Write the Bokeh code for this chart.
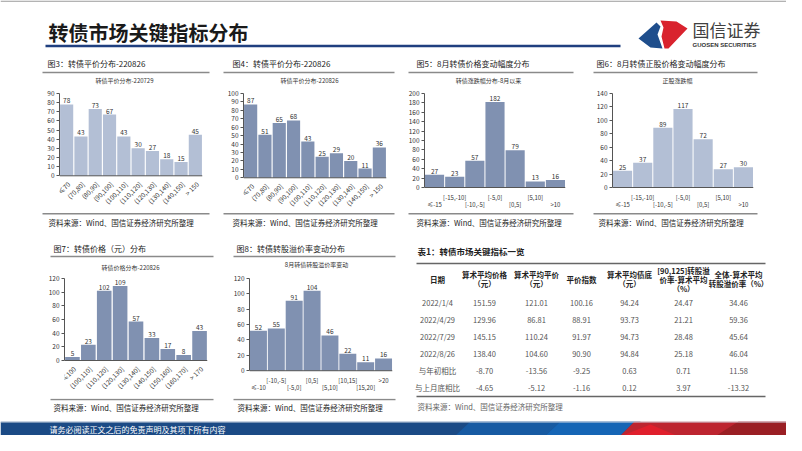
import math
from bokeh.plotting import figure
from bokeh.layouts import row, column
from bokeh.models import Range1d, FixedTicker, Span
from bokeh.core.properties import value
from bokeh.embed import file_html
from bokeh.resources import INLINE

# ---------------- data ----------------
cats_parity = ["≤70", "(70,80]", "(80,90]", "(90,100]", "(100,110]", "(110,120]",
               "(120,130]", "(130,140]", "(140,150]", "> 150"]
parity_0729 = [78, 43, 73, 67, 43, 30, 27, 18, 15, 45]
parity_0826 = [87, 51, 65, 68, 43, 25, 29, 20, 11, 36]

cats_chg = ["≤-15", "[-15,-10]", "[-10,-5]", "[-5,0]", "[0,5]", "[5,10]", ">10"]
cb_chg_aug = [27, 23, 57, 182, 79, 13, 16]
stock_chg_aug = [25, 37, 89, 117, 72, 27, 30]

cats_price = ["≤100", "(100,110]", "(110,120]", "(120,130]", "(130,140]", "(140,150]",
              "(150,160]", "(160,170]", "> 170"]
price_0826 = [5, 23, 102, 109, 57, 33, 17, 8, 43]

cats_prem = ["≤-10", "[-10,-5]", "[-5,0]", "[0,5]", "[5,10]", "[10,15]", "[15,20]", ">20"]
prem_chg_aug = [52, 55, 91, 104, 46, 22, 11, 16]

table_headers = ["日期", "算术平均价格\n（元）", "算术平均平价\n（元）", "平价指数",
                 "算术平均债底\n（元）", "[90,125]转股溢\n价率-算术平均\n（%）",
                 "全体-算术平均\n转股溢价率（%）"]
table_rows = ["2022/1/4", "2022/4/29", "2022/7/29", "2022/8/26", "与年初相比", "与上月底相比"]
avg_price = [151.59, 129.96, 145.15, 138.40, -8.70, -4.65]
avg_parity = [121.01, 86.81, 110.24, 104.60, -13.56, -5.12]
parity_index = [100.16, 88.91, 91.97, 90.90, -9.25, -1.16]
avg_bond_floor = [94.24, 93.73, 94.73, 94.84, 0.63, 0.12]
prem_90_125 = [24.47, 21.21, 28.48, 25.18, 0.71, 3.97]
prem_all = [34.46, 59.36, 45.64, 46.04, 11.58, -13.32]

SOURCE = "资料来源：Wind、国信证券经济研究所整理"

# ---------------- styles ----------------
FONT = "Noto Sans CJK SC"
F = value(FONT)
LIGHT = "#b3bfd5"
DARK = "#8091b1"
RULE = "#8a8a8a"


def band(x0, x1, y0, y1):
    p = figure(width=x1 - x0, height=y1 - y0, x_range=Range1d(x0, x1), y_range=Range1d(y1, y0),
               x_axis_type=None, y_axis_type=None, toolbar_location=None,
               output_backend="svg", min_border=0)
    p.outline_line_color = None
    p.background_fill_color = "white"
    p.border_fill_color = "white"
    return p


def txt(p, x, y, s, size, color="#222222", align="left", bold=False, font=F):
    p.text(x=[x], y=[y], text=[s], text_font=font, text_font_size=f"{size}px",
           text_color=color, text_align=align, text_baseline="middle",
           text_font_style="bold" if bold else "normal")


def hline(p, x0, x1, y, color=RULE, w=1.4):
    p.segment(x0=[x0], y0=[y], x1=[x1], y1=[y], line_color=color, line_width=w)


def chart(w, h, cats, vals, ymax, ystep, color, lb, rb, tb, z0, rotated):
    """z0: pixel row (from figure top) where the value 0 sits; the frame runs to the bottom
    so that category labels can be drawn under the zero line."""
    n = len(vals)
    idx = list(range(n))
    ymin = -ymax * (h - z0) / (z0 - tb)
    p = figure(width=w, height=h, x_range=Range1d(-0.5, n - 0.5), y_range=Range1d(ymin, ymax),
               x_axis_type=None, toolbar_location=None, output_backend="svg",
               min_border_left=lb, min_border_right=rb, min_border_top=tb, min_border_bottom=0)
    p.grid.visible = False
    p.outline_line_color = None
    p.background_fill_color = "white"
    p.border_fill_color = "white"
    p.vbar(x=idx, top=vals, width=0.95 if not rotated else 0.92, fill_color=color, line_color=None)
    p.text(x=idx, y=vals, text=[str(v) for v in vals], text_font=F, text_font_size="6.5px",
           text_color="#333333", text_align="center", text_baseline="bottom", y_offset=-1)
    p.add_layout(Span(location=0, dimension="width", line_color="#555555", line_width=1))
    ya = p.yaxis[0]
    ya.ticker = FixedTicker(ticks=list(range(0, ymax + 1, ystep)))
    ya.bounds = (0, ymax)
    ya.major_label_text_font = FONT
    ya.major_label_text_font_size = "6.5px"
    ya.major_label_text_color = "#333333"
    ya.axis_line_color = "#555555"
    ya.major_tick_line_color = "#555555"
    ya.minor_tick_line_color = None
    ya.major_tick_out = 3
    ya.major_tick_in = 0
    ya.major_label_standoff = 2
    if rotated:
        p.text(x=idx, y=[0] * n, text=cats, angle=math.pi / 4, text_align="right",
               text_baseline="middle", x_offset=2, y_offset=7, text_font=F,
               text_font_size="6.5px", text_color="#333333")
    else:
        lab = dict(text_font=F, text_font_size="6px", text_color="#333333")
        up, lo = idx[1::2], idx[0::2]
        p.text(x=up, y=[0] * len(up), text=[cats[i] for i in up], text_align="center",
               text_baseline="middle", y_offset=10, **lab)
        p.text(x=lo, y=[0] * len(lo), text=[cats[i] for i in lo], text_align="center",
               text_baseline="middle", y_offset=17, **lab)
    return p


# ---------------- header band ----------------
b1 = band(0, 786, 0, 86)
hline(b1, 0, 786, 0.6, color="#9a9a9a", w=1.2)
txt(b1, 48, 32, "转债市场关键指标分布", 20, color="#1a1a1a", bold=True)
hline(b1, 45, 620, 45.5, color="#1f3f7f", w=2.6)
b1.patches(xs=[[638, 656, 660, 657, 662, 650], [660, 676, 687, 668, 664, 661, 663]],
           ys=[[38, 22, 26, 34, 48, 47], [20, 21, 28, 48, 48, 36, 27]],
           fill_color=["#1f4e8c", "#d9232e"], line_color=None)
txt(b1, 692, 29, "国信证券", 17, color="#404040")
txt(b1, 692, 44, "GUOSEN SECURITIES", 6, color="#333333", bold=True, font=value("Liberation Sans"))

captions1 = [(47, "图3：转债平价分布-220826"), (232, "图4：转债平价分布-220826"),
             (416, "图5：8月转债价格变动幅度分布"), (596, "图6：8月转债正股价格变动幅度分布")]
for x, s in captions1:
    txt(b1, x, 63, s, 8)
for x0, x1 in [(42, 209), (223, 394), (408, 573), (593, 757)]:
    hline(b1, x0, x1, 72)
for x, s in [(124, "转债平价分布-220729"), (309, "转债平价分布-220826"),
             (488, "转债涨跌幅分布-8月以来"), (677, "正股涨跌幅")]:
    txt(b1, x, 80, s, 6, color="#333333", align="center")

# ---------------- row 1 charts (top at y=86, height 126) ----------------
c3 = chart(215, 126, cats_parity, parity_0729, 90, 10, LIGHT, 59, 13, 6, 89, True)
c4 = chart(185, 126, cats_parity, parity_0826, 100, 10, DARK, 28, 14, 6, 91, True)
c5 = chart(185, 126, cats_chg, cb_chg_aug, 200, 20, DARK, 24, 20, 7, 101, False)
c6 = chart(201, 126, cats_chg, stock_chg_aug, 140, 20, LIGHT, 27, 33, 7, 101, False)

# ---------------- band 2 (left) ----------------
b2 = band(0, 400, 212, 272)
hline(b2, 42, 209, 213.3)
hline(b2, 223, 394, 213.3)
txt(b2, 48, 222, SOURCE, 7.5)
txt(b2, 232, 222, SOURCE, 7.5)
txt(b2, 53, 248, "图7：转债价格（元）分布", 8)
txt(b2, 236, 248, "图8：转债转股溢价率变动分布", 8)
hline(b2, 50, 213, 256)
hline(b2, 233, 395, 256)
txt(b2, 130, 267, "转债价格分布-220826", 6, color="#333333", align="center")
txt(b2, 316, 264, "8月转债转股溢价率变动", 6, color="#333333", align="center")

# ---------------- row 2 charts (top at y=272, height 126) ----------------
c7 = chart(220, 126, cats_price, price_0826, 120, 20, DARK, 64, 13, 6, 88, True)
c8 = chart(180, 126, cats_prem, prem_chg_aug, 120, 20, DARK, 29, 8, 5, 98, False)

# ---------------- band 3 (left) ----------------
b3 = band(0, 400, 398, 421)
hline(b3, 50, 213, 399)
hline(b3, 233, 395, 399)
txt(b3, 53, 407, SOURCE, 7.5)
txt(b3, 237, 407, SOURCE, 7.5)

# ---------------- table block ----------------
tb = band(400, 786, 212, 421)
hline(tb, 408, 573, 213.3)
hline(tb, 593, 757, 213.3)
txt(tb, 416, 222, SOURCE, 7.5)
txt(tb, 598, 222, SOURCE, 7.5)
txt(tb, 417, 250, "表1：转债市场关键指标一览", 8.5, bold=True)
hline(tb, 416, 765, 263, color="#666666", w=1.5)
hline(tb, 416, 765, 396, color="#666666", w=1.5)

col_x = [437, 484, 536, 581, 629, 683, 738]
head_cy, head_lh = 278.5, 9
for cx, h in zip(col_x, table_headers):
    lines = h.split("\n")
    y0 = head_cy - head_lh * (len(lines) - 1) / 2
    tb.text(x=[cx] * len(lines), y=[y0 + k * head_lh for k in range(len(lines))], text=lines,
            text_font=F, text_font_size="7.5px", text_color="#222222", text_font_style="bold",
            text_align="center", text_baseline="middle")

row_y0, row_h = 302, 17
row_ys = [row_y0 + i * row_h for i in range(len(table_rows))]
columns = [table_rows,
           [f"{v:.2f}" for v in avg_price],
           [f"{v:.2f}" for v in avg_parity],
           [f"{v:.2f}" for v in parity_index],
           [f"{v:.2f}" for v in avg_bond_floor],
           [f"{v:.2f}" for v in prem_90_125],
           [f"{v:.2f}" for v in prem_all]]
for cx, vals in zip(col_x, columns):
    tb.text(x=[cx] * len(vals), y=row_ys, text=vals, text_font=F, text_font_size="7.5px",
            text_color="#555555", text_align="center", text_baseline="middle")
txt(tb, 417, 406, SOURCE, 7.5, color="#666666")

# ---------------- footer ----------------
ft = band(0, 786, 421, 435)
ft.patches(xs=[[0, 640, 640, 0],
               [470, 560, 545, 455],
               [560, 634, 620, 545],
               [634, 802, 802, 620],
               [622, 650, 676],
               [738, 802, 802, 716]],
           ys=[[421, 421, 435, 435],
               [421, 421, 435, 435],
               [421, 421, 435, 435],
               [421, 421, 435, 435],
               [435, 424, 435],
               [421, 421, 435, 435]],
           fill_color=["#1b4a85", "#175aa2", "#1565b5", "#bd2530", "#e01f2c", "#9a1f24"],
           line_color=None)
hline(ft, 0, 802, 421.5, color="#cfd8e3", w=1)
txt(ft, 49, 428.5, "请务必阅读正文之后的免责声明及其项下所有内容", 8, color="white")

layout = column(b1, row(c3, c4, c5, c6),
                row(column(b2, row(c7, c8), b3), tb),
                ft)

open("out.html", "w").write(file_html(layout, INLINE))
